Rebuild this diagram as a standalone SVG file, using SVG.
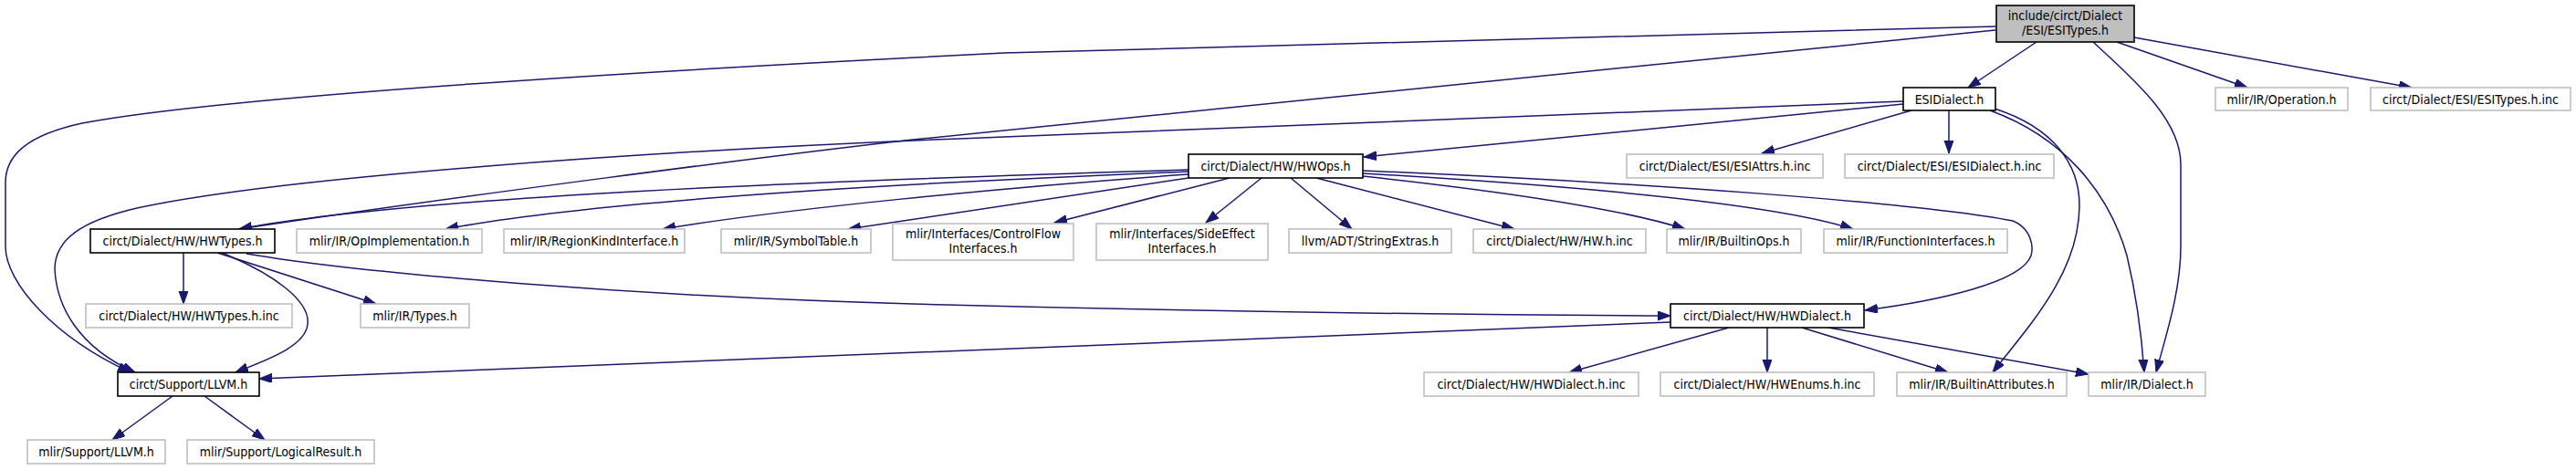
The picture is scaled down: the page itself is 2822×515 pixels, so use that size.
<svg xmlns="http://www.w3.org/2000/svg" width="2822" height="515" viewBox="0 0 2822 515">
<defs>
<marker id="ah" markerUnits="userSpaceOnUse" markerWidth="16" markerHeight="12" refX="14" refY="5" orient="auto">
<path d="M0,0 L14,5 L0,10 z" fill="#191970" stroke="#191970" stroke-width="1"/>
</marker>
<style>
.n rect{fill:#ffffff;stroke:#000000;stroke-width:1.6}
.u rect{fill:#ffffff;stroke:#bfbfbf;stroke-width:1.6}
.r rect{fill:#bfbfbf;stroke:#000000;stroke-width:1.6}
text{font-family:"DejaVu Sans Condensed","DejaVu Sans",sans-serif;font-stretch:condensed;font-size:14px;fill:#000000;text-anchor:middle}
#edges path{fill:none;stroke:#191970;stroke-width:1.5;marker-end:url(#ah)}
</style>
</defs>
<rect width="2822" height="515" fill="#ffffff"/>
<g id="edges">
<path d="M2231,46 L2156,96"/>
<path d="M2319,46 L2462,96"/>
<path d="M2338,41 L2642,96"/>
<path d="M2293,46 C2335,85 2389,130 2389,180 L2389,270 C2389,320 2372,370 2362,408"/>
<path d="M2186,29 L1100,58 C700,78 250,105 90,135 C30,148 6,170 6,200 L6,270 C6,310 60,370 143,408"/>
<path d="M2186,33 L1000,153 C850,170 500,215 262,251"/>
<path d="M2085,114 L1494,172"/>
<path d="M2085,111 L1100,150 C700,165 300,195 150,228 C90,242 60,262 60,295 C62,335 85,380 148,408"/>
<path d="M2094,121 L1930,168"/>
<path d="M2135,121 L2135,168"/>
<path d="M2180,121 C2260,150 2310,210 2330,280 C2342,330 2347,380 2349,408"/>
<path d="M2185,119 C2250,140 2278,180 2278,225 C2278,300 2220,360 2183,408"/>
<path d="M1302,186 C900,198 450,215 262,251"/>
<path d="M1302,188 C1000,200 650,220 488,251"/>
<path d="M1302,191 C1100,205 850,230 726,251"/>
<path d="M1302,195 L929,251"/>
<path d="M1347,195 L1155,244"/>
<path d="M1382,195 L1321,244"/>
<path d="M1414,195 L1481,251"/>
<path d="M1442,195 L1659,251"/>
<path d="M1493,193 C1650,210 1780,230 1846,251"/>
<path d="M1493,190 C1750,205 1950,225 2030,251"/>
<path d="M1493,187 C1800,200 2100,222 2205,242 C2225,250 2228,270 2225,280 C2215,310 2120,330 2043,340"/>
<path d="M201,277 L201,333"/>
<path d="M238,277 L412,333"/>
<path d="M243,277 C300,300 340,330 337,355 C335,380 290,395 258,408"/>
<path d="M270,278 C400,300 700,325 1000,333 C1300,341 1600,345 1830,346"/>
<path d="M1830,353 L284,415"/>
<path d="M1894,359 L1719,408"/>
<path d="M1936,359 L1936,408"/>
<path d="M1974,359 L2134,408"/>
<path d="M2003,359 L2288,410"/>
<path d="M189,434 L123,482"/>
<path d="M224,434 L290,482"/>
</g>
<g id="n_root" class="r"><rect x="2187" y="6" width="151" height="40"/><text x="2262.5" y="22">include/circt/Dialect</text><text x="2262.5" y="38">/ESI/ESITypes.h</text></g>
<g id="n_esidialect" class="n"><rect x="2085" y="96" width="101" height="25"/><text x="2135.5" y="113.5">ESIDialect.h</text></g>
<g id="n_operation" class="u"><rect x="2427" y="96" width="145" height="25"/><text x="2499.5" y="113.5">mlir/IR/Operation.h</text></g>
<g id="n_esitypesinc" class="u"><rect x="2597" y="96" width="219" height="25"/><text x="2706.5" y="113.5">circt/Dialect/ESI/ESITypes.h.inc</text></g>
<g id="n_hwops" class="n"><rect x="1302" y="169" width="191" height="26"/><text x="1397.5" y="187">circt/Dialect/HW/HWOps.h</text></g>
<g id="n_esiattrs" class="u"><rect x="1782" y="169" width="215" height="26"/><text x="1889.5" y="187">circt/Dialect/ESI/ESIAttrs.h.inc</text></g>
<g id="n_esidialectinc" class="u"><rect x="2021" y="169" width="229" height="26"/><text x="2135.5" y="187">circt/Dialect/ESI/ESIDialect.h.inc</text></g>
<g id="n_hwtypes" class="n"><rect x="99" y="251" width="202" height="26"/><text x="200" y="269">circt/Dialect/HW/HWTypes.h</text></g>
<g id="n_opimpl" class="u"><rect x="325" y="251" width="203" height="26"/><text x="426.5" y="269">mlir/IR/OpImplementation.h</text></g>
<g id="n_regionkind" class="u"><rect x="552" y="251" width="198" height="26"/><text x="651" y="269">mlir/IR/RegionKindInterface.h</text></g>
<g id="n_symboltable" class="u"><rect x="790" y="251" width="164" height="26"/><text x="872" y="269">mlir/IR/SymbolTable.h</text></g>
<g id="n_controlflow" class="u"><rect x="978" y="245" width="198" height="40"/><text x="1077" y="261">mlir/Interfaces/ControlFlow</text><text x="1077" y="277">Interfaces.h</text></g>
<g id="n_sideeffect" class="u"><rect x="1201" y="245" width="188" height="40"/><text x="1295" y="261">mlir/Interfaces/SideEffect</text><text x="1295" y="277">Interfaces.h</text></g>
<g id="n_stringextras" class="u"><rect x="1412" y="251" width="178" height="26"/><text x="1501" y="269">llvm/ADT/StringExtras.h</text></g>
<g id="n_hwinc" class="u"><rect x="1614" y="251" width="189" height="26"/><text x="1708.5" y="269">circt/Dialect/HW/HW.h.inc</text></g>
<g id="n_builtinops" class="u"><rect x="1826" y="251" width="147" height="26"/><text x="1899.5" y="269">mlir/IR/BuiltinOps.h</text></g>
<g id="n_funcifaces" class="u"><rect x="1998" y="251" width="201" height="26"/><text x="2098.5" y="269">mlir/IR/FunctionInterfaces.h</text></g>
<g id="n_hwtypesinc" class="u"><rect x="94" y="333" width="226" height="26"/><text x="207" y="351">circt/Dialect/HW/HWTypes.h.inc</text></g>
<g id="n_types" class="u"><rect x="395" y="333" width="119" height="26"/><text x="454.5" y="351">mlir/IR/Types.h</text></g>
<g id="n_hwdialect" class="n"><rect x="1830" y="333" width="212" height="26"/><text x="1936" y="351">circt/Dialect/HW/HWDialect.h</text></g>
<g id="n_circtllvm" class="n"><rect x="129" y="408" width="155" height="26"/><text x="206.5" y="426">circt/Support/LLVM.h</text></g>
<g id="n_hwdialectinc" class="u"><rect x="1560" y="408" width="235" height="26"/><text x="1677.5" y="426">circt/Dialect/HW/HWDialect.h.inc</text></g>
<g id="n_hwenums" class="u"><rect x="1819" y="408" width="234" height="26"/><text x="1936" y="426">circt/Dialect/HW/HWEnums.h.inc</text></g>
<g id="n_builtinattrs" class="u"><rect x="2078" y="408" width="186" height="26"/><text x="2171" y="426">mlir/IR/BuiltinAttributes.h</text></g>
<g id="n_dialect" class="u"><rect x="2288" y="408" width="128" height="26"/><text x="2352" y="426">mlir/IR/Dialect.h</text></g>
<g id="n_mlirllvm" class="u"><rect x="30" y="482" width="151" height="26"/><text x="105.5" y="500">mlir/Support/LLVM.h</text></g>
<g id="n_logicalresult" class="u"><rect x="205" y="482" width="205" height="26"/><text x="307.5" y="500">mlir/Support/LogicalResult.h</text></g>
</svg>
